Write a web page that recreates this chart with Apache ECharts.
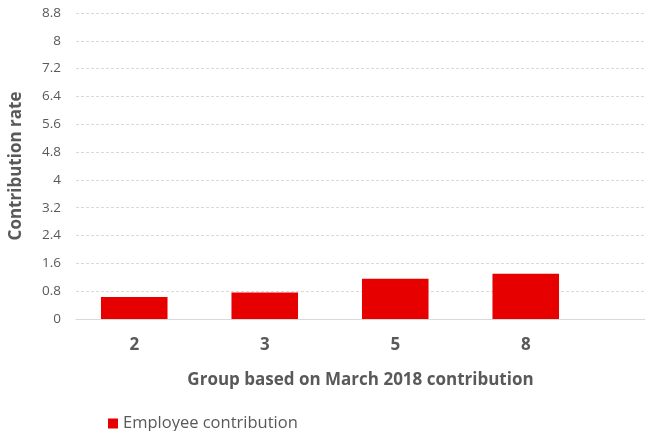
<!DOCTYPE html>
<html>
<head>
<meta charset="utf-8">
<script src="https://cdn.jsdelivr.net/npm/echarts@6/dist/echarts.min.js"></script>
<style>
  html, body { margin: 0; padding: 0; background: #ffffff; }
  #chart { width: 645px; height: 431px; }
</style>
</head>
<body>
<div id="chart"></div>
<script>
// Contribution rate by group
const categories = ['2', '3', '5', '8'];
const employeeContribution = [0.63, 0.76, 1.16, 1.3];
const seriesName = 'Employee contribution';
const yMin = 0;
const yMax = 8.8;
const yStep = 0.8;

const FONT = '"Open Sans", Lato, sans-serif';
const TEXT = '#595959';
const GRID_LINE = '#d9d9d9';

const chart = echarts.init(document.getElementById('chart'), null, { renderer: 'canvas' });

chart.setOption({
  animation: false,
  backgroundColor: '#ffffff',
  textStyle: { fontFamily: FONT },
  grid: [
    // full-width plot frame: gridlines, baseline, axis titles
    { left: 68, right: 0, top: 13, bottom: 112, containLabel: false },
    // bar area
    { left: 69, right: 54, top: 13, bottom: 112, containLabel: false }
  ],
  legend: {
    left: 103,
    top: 410,
    itemWidth: 10,
    itemHeight: 10,
    icon: 'rect',
    textStyle: { fontFamily: FONT, fontSize: 16.5, color: TEXT },
    data: [seriesName]
  },
  xAxis: [
    {
      gridIndex: 0,
      type: 'category',
      data: categories,
      name: 'Group based on March 2018 contribution',
      nameLocation: 'middle',
      nameGap: 53,
      nameTextStyle: { fontFamily: FONT, fontSize: 17, fontWeight: 'bold', color: TEXT },
      axisLine: { show: true, lineStyle: { color: GRID_LINE, width: 1 } },
      axisTick: { show: false },
      axisLabel: { show: false },
      splitLine: { show: false }
    },
    {
      gridIndex: 1,
      type: 'category',
      data: categories,
      axisLine: { show: false },
      axisTick: { show: false },
      axisLabel: {
        margin: 18,
        fontFamily: FONT,
        fontSize: 17,
        fontWeight: 'bold',
        color: TEXT
      },
      splitLine: { show: false }
    }
  ],
  yAxis: [
    {
      gridIndex: 0,
      type: 'value',
      min: yMin,
      max: yMax,
      interval: yStep,
      name: 'Contribution rate',
      nameLocation: 'middle',
      nameGap: 51,
      nameTextStyle: { fontFamily: FONT, fontSize: 17, fontWeight: 'bold', color: TEXT },
      axisLine: { show: false },
      axisTick: { show: false },
      axisLabel: { margin: 15, fontFamily: FONT, fontSize: 13.5, color: TEXT },
      splitLine: { show: true, lineStyle: { color: GRID_LINE, type: [3, 2], width: 1 } }
    },
    {
      gridIndex: 1,
      type: 'value',
      min: yMin,
      max: yMax,
      interval: yStep,
      show: false,
      splitLine: { show: false }
    }
  ],
  series: [
    {
      name: seriesName,
      type: 'bar',
      xAxisIndex: 1,
      yAxisIndex: 1,
      data: employeeContribution,
      barWidth: '51%',
      itemStyle: { color: '#e60000' }
    }
  ]
});
</script>
</body>
</html>
